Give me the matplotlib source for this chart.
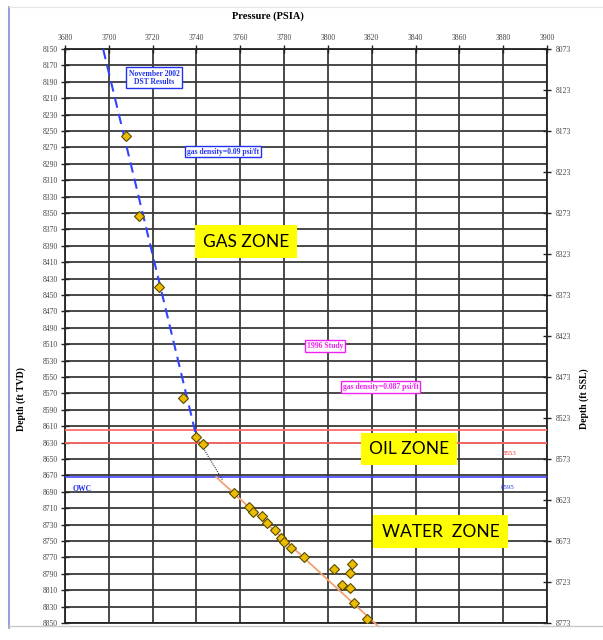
import matplotlib.pyplot as plt
from matplotlib.lines import Line2D

# Axis ticks
pressure_ticks = list(range(3680, 3901, 20))
depth_ticks = list(range(8150, 8851, 20))
ssl_ticks = list(range(8073, 8774, 50))

# Pressure measurements (psia) vs depth (ft TVD)
point_pressure = [3708, 3714, 3723, 3734, 3740, 3743,
                  3757, 3764, 3766, 3770, 3772, 3776, 3778.5, 3780, 3783,
                  3789, 3803, 3811, 3810, 3806.5, 3810, 3812, 3818]
point_depth = [8256, 8354, 8440, 8576, 8623, 8632,
               8692, 8709, 8715, 8720, 8728, 8737, 8746, 8751, 8758,
               8770, 8784, 8778, 8789, 8804, 8807, 8825, 8845]

# Fluid gradient lines
gas_line_pressure = [3697.4, 3740]
gas_line_depth = [8150, 8623]
oil_line_pressure = [3740, 3752]
oil_line_depth = [8623, 8676]
water_line_pressure = [3749, 3823]
water_line_depth = [8672, 8854]

# Fluid contacts (ft TVD)
gas_oil_contacts = [8615, 8630]
owc_depth = 8672

serif = 'Liberation Serif'

fig = plt.figure(figsize=(6.03, 6.40), dpi=100)
fig.patch.set_facecolor('white')

# chart frame
fig.add_artist(Line2D([9/603, 9/603], [1-628/640, 1-7/640], color='#8090d0', lw=1.2))
fig.add_artist(Line2D([9/603, 1], [1-626/640, 1-626/640], color='#c8c8c8', lw=1.0))
fig.add_artist(Line2D([9/603, 1], [1-7/640, 1-7/640], color='#e4e4e4', lw=0.8))

ax = fig.add_axes([65/603, 1-623/640, 482/603, 574/640])
ax.set_xlim(3680, 3900)
ax.set_ylim(8850, 8150)

ax.xaxis.tick_top()
ax.xaxis.set_label_position('top')
ax.set_xticks(pressure_ticks)
ax.set_yticks(depth_ticks)
ax.tick_params(axis='both', direction='inout', length=6, width=1.0, colors='#222222',
               labelsize=5.5, labelcolor='#444444', pad=2)
for lab in ax.get_xticklabels() + ax.get_yticklabels():
    lab.set_fontfamily(serif)
ax.grid(True, color='#3a3a3a', lw=1.3)
ax.set_axisbelow(True)
for s in ax.spines.values():
    s.set_color('#222222')
    s.set_linewidth(1.3)

ax.set_xlabel('Pressure (PSIA)', fontfamily=serif, fontweight='bold', fontsize=7.5,
              labelpad=8)
ax.xaxis.set_label_coords(0.42, 1.052)
ax.set_ylabel('Depth (ft TVD)', fontfamily=serif, fontweight='bold', fontsize=7)
ax.yaxis.set_label_coords(-0.081, 0.39)

# right-hand subsea depth axis
ax2 = ax.twinx()
ax2.set_ylim(8773, 8073)
ax2.set_yticks(ssl_ticks)
ax2.tick_params(axis='y', direction='inout', length=6, width=1.0, colors='#222222',
                labelsize=5.5, labelcolor='#444444', pad=3)
for lab in ax2.get_yticklabels():
    lab.set_fontfamily(serif)
for s in ax2.spines.values():
    s.set_visible(False)
ax2.set_ylabel('Depth (ft SSL)', fontfamily=serif, fontweight='bold', fontsize=7,
               rotation=90)
ax2.yaxis.set_label_coords(1.067, 0.39)

# contacts
for d in gas_oil_contacts:
    ax.axhline(d, color='#ff6b6b', lw=1.3, zorder=3)
ax.axhline(owc_depth, color='#4646ff', lw=1.2, zorder=3)

# gradient lines
ax.plot(gas_line_pressure, gas_line_depth, color='#3344ff', lw=1.5,
        dashes=(5, 3), zorder=4)
ax.plot(oil_line_pressure, oil_line_depth, color='#333333', lw=0.8,
        ls=(0, (1, 1)), zorder=4)
ax.plot(water_line_pressure, water_line_depth, color='#f4a070', lw=1.3,
        zorder=4, clip_on=False)

ax.plot(point_pressure, point_depth, ls='none', marker='D', ms=4.6,
        mfc='#ecbc00', mec='#5a4a00', mew=0.8, zorder=5)

# annotations
box_kw = dict(fontfamily=serif, fontweight='bold', fontsize=5.5, ha='center',
              va='center', zorder=6)
ax.text(3720.6, 8185, 'November 2002\nDST Results', color='#2233ee',
        linespacing=0.95,
        bbox=dict(boxstyle='square,pad=0.35', fc='white', ec='#2233ee', lw=1.0),
        **box_kw)
ax.text(3752, 8275, 'gas density=0.09 psi/ft', color='#2233ee',
        bbox=dict(boxstyle='square,pad=0.25', fc='white', ec='#2233ee', lw=1.0),
        **box_kw)
ax.text(3798.7, 8512, '1996 Study', color='#ee22ee',
        bbox=dict(boxstyle='square,pad=0.25', fc='white', ec='#ee22ee', lw=1.0),
        **box_kw)
ax.text(3824, 8562, 'gas density=0.087 psi/ft', color='#ee22ee',
        bbox=dict(boxstyle='square,pad=0.25', fc='white', ec='#ee22ee', lw=1.0),
        **box_kw)

ax.text(3683.5, 8687, 'OWC', color='#2233ee', fontfamily=serif, fontweight='bold',
        fontsize=5.5, ha='left', va='center', zorder=6)
ax.text(3883, 8643, '8553', color='#ff3333', fontfamily=serif, fontsize=5,
        ha='center', va='center', zorder=6)
ax.text(3882, 8685, '8595', color='#2233ee', fontfamily=serif, fontsize=5,
        ha='center', va='center', zorder=6)

zone_kw = dict(fontfamily='Lato', fontsize=12.5, color='#000000',
               ha='center', va='center', zorder=6)
ax.text(3762.6, 8385, 'GAS ZONE',
        bbox=dict(boxstyle='square,pad=0.48', fc='#ffff00', ec='none'), **zone_kw)
ax.text(3837, 8638, 'OIL ZONE',
        bbox=dict(boxstyle='square,pad=0.48', fc='#ffff00', ec='none'), **zone_kw)
ax.text(3851.4, 8738.6, 'WATER  ZONE',
        bbox=dict(boxstyle='square,pad=0.48', fc='#ffff00', ec='none'), **zone_kw)

fig.savefig('out.png', dpi=100, facecolor='white')
